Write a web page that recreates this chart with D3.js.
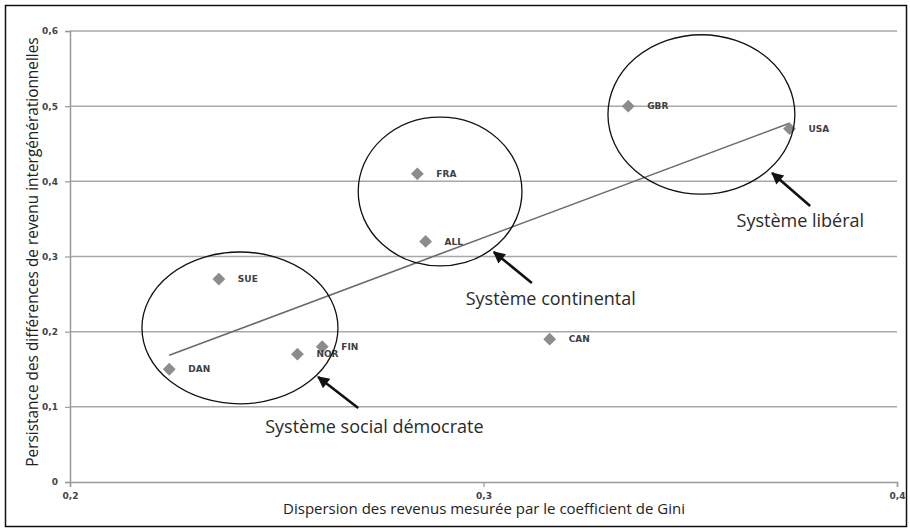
<!DOCTYPE html>
<html>
<head>
<meta charset="utf-8">
<script src="https://cdnjs.cloudflare.com/ajax/libs/d3/7.8.5/d3.min.js"></script>
<style>
  body { margin: 0; background: #fff; }
  svg { display: block; }
</style>
</head>
<body>
<div id="chart"></div>
<script>
// ------------------------------------------------------------ //
// Data                                  //
// ------------------------------------------------------------ //
var countries   = ["DAN", "SUE", "NOR", "FIN", "FRA", "ALL", "CAN", "GBR", "USA"];
var gini        = [0.224, 0.236, 0.255, 0.261, 0.284, 0.286, 0.316, 0.335, 0.374];
var persistence = [0.15, 0.27, 0.17, 0.18, 0.41, 0.32, 0.19, 0.50, 0.47];

var xTicks = [0.2, 0.3, 0.4];
var xTickLabels = ["0,2", "0,3", "0,4"];
var yTicks = [0, 0.1, 0.2, 0.3, 0.4, 0.5, 0.6];
var yTickLabels = ["0", "0,1", "0,2", "0,3", "0,4", "0,5", "0,6"];

// groups of countries circled on the chart (centre and radii in data units)
var groupNames = ["Système social démocrate", "Système continental", "Système libéral"];
var groupCx = [0.2411, 0.2895, 0.3527];
var groupCy = [0.205, 0.3865, 0.489];
var groupRx = [0.0237, 0.0198, 0.0226];
var groupRy = [0.101, 0.099, 0.106];
// arrow from the label to the ellipse (data units)
var arrowFromX = [0.2697, 0.3117, 0.379];
var arrowFromY = [0.0984, 0.2647, 0.3672];
var arrowToX   = [0.2600, 0.3025, 0.3698];
var arrowToY   = [0.1397, 0.306, 0.4111];
// label anchor (start of text, baseline)
var labelX = [0.2472, 0.2957, 0.3612];
var labelY = [0.0652, 0.2355, 0.3392];

// ------------------------------------------------------------ //
// Canvas                                                       //
// ------------------------------------------------------------ //
var W = 910, H = 532;
var margin = {top: 31, right: 13, bottom: 50, left: 70},
    width = W - margin.left - margin.right,
    height = H - margin.top - margin.bottom;

var root = d3.select("#chart").append("svg")
    .attr("width", W)
    .attr("height", H);

// outer frame
root.append("rect")
    .attr("x", 5.5).attr("y", 5.5)
    .attr("width", 901).attr("height", 521)
    .attr("fill", "none")
    .attr("stroke", "#111")
    .attr("stroke-width", 1.5);

var svg = root.append("g")
    .attr("transform", "translate(" + margin.left + "," + margin.top + ")");

var x = d3.scaleLinear().domain([0.2, 0.4]).range([0, width]);
var y = d3.scaleLinear().domain([0, 0.6]).range([height, 0]);

// ----- //
// Grid  //
// ----- //
svg.append("g")
  .selectAll("line")
  .data(yTicks.filter(function(d){ return d > 0; }))
  .enter()
  .append("line")
    .attr("x1", 0)
    .attr("x2", width)
    .attr("y1", function(d){ return y(d); })
    .attr("y2", function(d){ return y(d); })
    .attr("stroke", "#a8a8a8")
    .attr("stroke-width", 1.5);

// ---- //
// Axes //
// ---- //
var xAxis = svg.append("g")
    .attr("transform", "translate(0," + height + ")")
    .call(d3.axisBottom(x)
      .tickValues(xTicks)
      .tickSize(5)
      .tickPadding(6)
      .tickFormat(function(d, i){ return xTickLabels[i]; }));

var yAxis = svg.append("g")
    .call(d3.axisLeft(y)
      .tickValues(yTicks)
      .tickSize(5)
      .tickPadding(7)
      .tickFormat(function(d, i){ return yTickLabels[i]; }));

[xAxis, yAxis].forEach(function(ax){
  ax.select(".domain").attr("stroke", "#9a9a9a").attr("stroke-width", 1.5);
  ax.selectAll(".tick line").attr("stroke", "#9a9a9a").attr("stroke-width", 1.2);
  ax.selectAll(".tick text")
    .attr("fill", "#444")
    .style("font-family", "'DejaVu Sans', sans-serif")
    .style("font-weight", "bold")
    .style("font-size", "9px");
});

// axis titles
root.append("text")
    .attr("x", 484)
    .attr("y", 514)
    .attr("text-anchor", "middle")
    .style("font-family", "'Open Sans', sans-serif")
    .style("font-size", "15px")
    .attr("fill", "#222")
    .text("Dispersion des revenus mesurée par le coefficient de Gini");

root.append("text")
    .attr("transform", "translate(38,252) rotate(-90)")
    .attr("text-anchor", "middle")
    .style("font-family", "'Open Sans', sans-serif")
    .style("font-size", "15.4px")
    .attr("fill", "#222")
    .text("Persistance des différences de revenu intergénérationnelles");

// ---------- //
// Trend line //
// ---------- //
var mx = d3.mean(gini), my = d3.mean(persistence);
var sxy = d3.sum(gini, function(g, i){ return (g - mx) * (persistence[i] - my); });
var sxx = d3.sum(gini, function(g){ return (g - mx) * (g - mx); });
var slope = sxy / sxx, intercept = my - slope * mx;
var trendX = d3.extent(gini);

svg.append("path")
    .datum(trendX)
    .attr("d", d3.line()
      .x(function(d){ return x(d); })
      .y(function(d){ return y(intercept + slope * d); }))
    .attr("fill", "none")
    .attr("stroke", "#6a6a6a")
    .attr("stroke-width", 1.6);

// ------ //
// Points //
// ------ //
var points = countries.map(function(c, i){
  return {name: c, x: gini[i], y: persistence[i]};
});

var diamond = d3.symbol().type(d3.symbolSquare).size(82);

svg.selectAll("mypoints")
  .data(points)
  .enter()
  .append("path")
    .attr("d", diamond)
    .attr("transform", function(d){ return "translate(" + x(d.x) + "," + y(d.y) + ") rotate(45)"; })
    .attr("fill", "#8c8c8c");

svg.selectAll("mylabels")
  .data(points)
  .enter()
  .append("text")
    .attr("x", function(d){ return x(d.x) + 19; })
    .attr("y", function(d){ return y(d.y); })
    .attr("dy", "0.35em")
    .style("font-family", "'DejaVu Sans', sans-serif")
    .style("font-weight", "bold")
    .style("font-size", "9px")
    .attr("fill", "#404040")
    .text(function(d){ return d.name; });

// ----------- //
// Annotations //
// ----------- //
root.append("defs").append("marker")
    .attr("id", "head")
    .attr("viewBox", "0 0 10 10")
    .attr("refX", 9)
    .attr("refY", 5)
    .attr("markerUnits", "userSpaceOnUse")
    .attr("markerWidth", 14)
    .attr("markerHeight", 12)
    .attr("orient", "auto")
  .append("path")
    .attr("d", "M0,0 L10,5 L0,10 Z")
    .attr("fill", "#111");

var groups = groupNames.map(function(n, i){ return {name: n, i: i}; });

svg.selectAll("myellipses")
  .data(groups)
  .enter()
  .append("ellipse")
    .attr("cx", function(d){ return x(groupCx[d.i]); })
    .attr("cy", function(d){ return y(groupCy[d.i]); })
    .attr("rx", function(d){ return x(0.2 + groupRx[d.i]) - x(0.2); })
    .attr("ry", function(d){ return y(0) - y(groupRy[d.i]); })
    .attr("fill", "none")
    .attr("stroke", "#111")
    .attr("stroke-width", 1.3);

svg.selectAll("myarrows")
  .data(groups)
  .enter()
  .append("line")
    .attr("x1", function(d){ return x(arrowFromX[d.i]); })
    .attr("y1", function(d){ return y(arrowFromY[d.i]); })
    .attr("x2", function(d){ return x(arrowToX[d.i]); })
    .attr("y2", function(d){ return y(arrowToY[d.i]); })
    .attr("stroke", "#111")
    .attr("stroke-width", 2.6)
    .attr("marker-end", "url(#head)");

svg.selectAll("mygrouplabels")
  .data(groups)
  .enter()
  .append("text")
    .attr("x", function(d){ return x(labelX[d.i]); })
    .attr("y", function(d){ return y(labelY[d.i]); })
    .style("font-family", "'Open Sans', sans-serif")
    .style("font-size", "18px")
    .attr("fill", "#2a2a2a")
    .text(function(d){ return d.name; });
</script>
</body>
</html>
